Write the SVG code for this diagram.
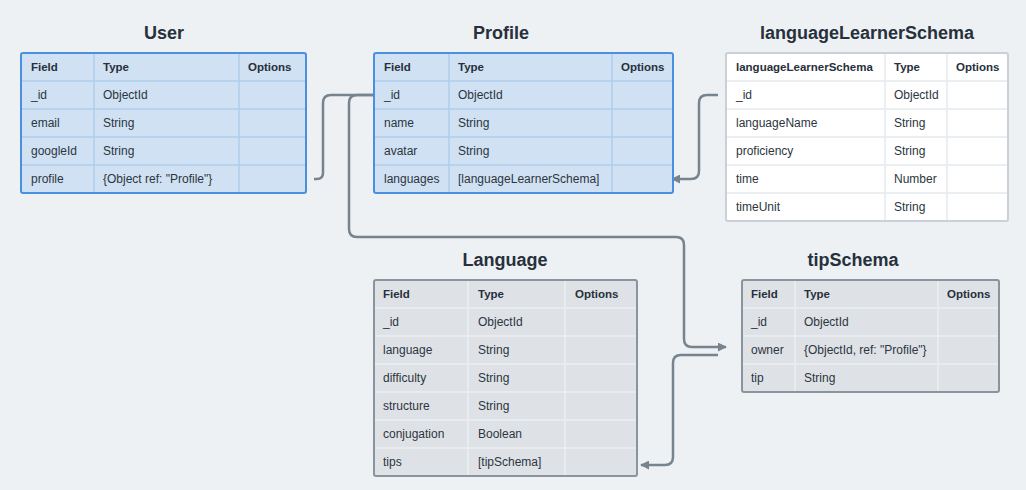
<svg xmlns="http://www.w3.org/2000/svg" width="1026" height="490" viewBox="0 0 1026 490">
<style>
.bg{fill:#edf1f4}
.title{font-family:"Liberation Sans",Arial,sans-serif;font-size:18px;font-weight:bold;fill:#27303b;text-anchor:middle}
.h{font-family:"Liberation Sans",Arial,sans-serif;font-size:11.5px;font-weight:bold;fill:#27303b}
.c{font-family:"Liberation Sans",Arial,sans-serif;font-size:12px;fill:#2d3540}
.bfill{fill:#cfe1f3}
.bin{stroke:#b0cdec;stroke-width:1.5;fill:none}
.bborder{fill:none;stroke:#4a90df;stroke-width:2}
.gfill{fill:#dee2e6}
.gin{stroke:#eceff2;stroke-width:1.5;fill:none}
.gborder{fill:none;stroke:#8a949e;stroke-width:2}
.wfill{fill:#ffffff}
.win{stroke:#e6eaee;stroke-width:1.5;fill:none}
.wborder{fill:none;stroke:#c9d0d7;stroke-width:2}
.conn{fill:none;stroke:#77838f;stroke-width:2.5}
</style>
<defs>
<marker id="arr" viewBox="0 0 10 10" refX="9" refY="5" markerWidth="9" markerHeight="9" markerUnits="userSpaceOnUse" orient="auto">
<path d="M0,0 L10,5 L0,10 z" fill="#77838f"/>
</marker>
</defs>
<rect class="bg" x="0" y="0" width="1026" height="490"/>

<g id="connectors">
<path class="conn" d="M314,179 H317 Q323,179 323,173 V103 Q323,95 331,95 H374"/>
<path class="conn" d="M374,95 H357 Q349,95 349,103 V229 Q349,237 357,237 H676 Q684,237 684,245 V339 Q684,347 692,347 H726" marker-end="url(#arr)"/>
<path class="conn" d="M718,95 H707 Q699,95 699,103 V171 Q699,179 691,179 H672" marker-end="url(#arr)"/>
<path class="conn" d="M718,355 H681 Q673,355 673,363 V457 Q673,465 665,465 H641" marker-end="url(#arr)"/>
</g>

<g id="User">
<text class="title" x="164" y="39">User</text>
<rect class="bfill" x="21" y="53" width="285" height="140"/>
<path class="bin" d="M21,81 H306 M21,109 H306 M21,137 H306 M21,165 H306 M94,53 V193 M239,53 V193"/>
<rect class="bborder" x="21" y="53" width="285" height="140" rx="2"/>
<text class="h" x="31" y="71">Field</text><text class="h" x="103" y="71">Type</text><text class="h" x="248" y="71">Options</text>
<text class="c" x="31" y="99">_id</text><text class="c" x="103" y="99">ObjectId</text>
<text class="c" x="31" y="127">email</text><text class="c" x="103" y="127">String</text>
<text class="c" x="31" y="155">googleId</text><text class="c" x="103" y="155">String</text>
<text class="c" x="31" y="183">profile</text><text class="c" x="103" y="183">{Object ref: "Profile"}</text>
</g>

<g id="Profile">
<text class="title" x="501" y="39">Profile</text>
<rect class="bfill" x="374" y="53" width="299" height="140"/>
<path class="bin" d="M374,81 H673 M374,109 H673 M374,137 H673 M374,165 H673 M449,53 V193 M612,53 V193"/>
<rect class="bborder" x="374" y="53" width="299" height="140" rx="2"/>
<text class="h" x="384" y="71">Field</text><text class="h" x="458" y="71">Type</text><text class="h" x="621" y="71">Options</text>
<text class="c" x="384" y="99">_id</text><text class="c" x="458" y="99">ObjectId</text>
<text class="c" x="384" y="127">name</text><text class="c" x="458" y="127">String</text>
<text class="c" x="384" y="155">avatar</text><text class="c" x="458" y="155">String</text>
<text class="c" x="384" y="183">languages</text><text class="c" x="458" y="183">[languageLearnerSchema]</text>
</g>

<g id="languageLearnerSchema">
<text class="title" x="867" y="39">languageLearnerSchema</text>
<rect class="wfill" x="726" y="53" width="282" height="168"/>
<path class="win" d="M726,81 H1008 M726,109 H1008 M726,137 H1008 M726,165 H1008 M726,193 H1008 M885,53 V221 M947,53 V221"/>
<rect class="wborder" x="726" y="53" width="282" height="168" rx="2"/>
<text class="h" x="736" y="71">languageLearnerSchema</text><text class="h" x="894" y="71">Type</text><text class="h" x="956" y="71">Options</text>
<text class="c" x="736" y="99">_id</text><text class="c" x="894" y="99">ObjectId</text>
<text class="c" x="736" y="127">languageName</text><text class="c" x="894" y="127">String</text>
<text class="c" x="736" y="155">proficiency</text><text class="c" x="894" y="155">String</text>
<text class="c" x="736" y="183">time</text><text class="c" x="894" y="183">Number</text>
<text class="c" x="736" y="211">timeUnit</text><text class="c" x="894" y="211">String</text>
</g>

<g id="Language">
<text class="title" x="505" y="266">Language</text>
<rect class="gfill" x="374" y="280" width="263" height="196"/>
<path class="gin" d="M374,308 H637 M374,336 H637 M374,364 H637 M374,392 H637 M374,420 H637 M374,448 H637 M468,280 V476 M565,280 V476"/>
<rect class="gborder" x="374" y="280" width="263" height="196" rx="2"/>
<text class="h" x="383" y="298">Field</text><text class="h" x="478" y="298">Type</text><text class="h" x="575" y="298">Options</text>
<text class="c" x="383" y="326">_id</text><text class="c" x="478" y="326">ObjectId</text>
<text class="c" x="383" y="354">language</text><text class="c" x="478" y="354">String</text>
<text class="c" x="383" y="382">difficulty</text><text class="c" x="478" y="382">String</text>
<text class="c" x="383" y="410">structure</text><text class="c" x="478" y="410">String</text>
<text class="c" x="383" y="438">conjugation</text><text class="c" x="478" y="438">Boolean</text>
<text class="c" x="383" y="466">tips</text><text class="c" x="478" y="466">[tipSchema]</text>
</g>

<g id="tipSchema">
<text class="title" x="853" y="266">tipSchema</text>
<rect class="gfill" x="742" y="280" width="257" height="112"/>
<path class="gin" d="M742,308 H999 M742,336 H999 M742,364 H999 M795,280 V392 M938,280 V392"/>
<rect class="gborder" x="742" y="280" width="257" height="112" rx="2"/>
<text class="h" x="751" y="298">Field</text><text class="h" x="804" y="298">Type</text><text class="h" x="947" y="298">Options</text>
<text class="c" x="751" y="326">_id</text><text class="c" x="804" y="326">ObjectId</text>
<text class="c" x="751" y="354">owner</text><text class="c" x="804" y="354">{ObjectId, ref: "Profile"}</text>
<text class="c" x="751" y="382">tip</text><text class="c" x="804" y="382">String</text>
</g>
</svg>
